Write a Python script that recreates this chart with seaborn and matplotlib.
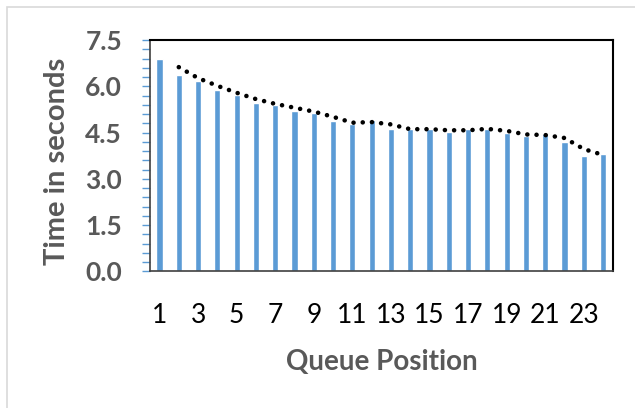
import numpy as np
import pandas as pd
import seaborn as sns
import matplotlib.pyplot as plt
from matplotlib.patches import Rectangle
from matplotlib.ticker import MultipleLocator

sns.set_theme(style="white")
plt.rcParams['font.family'] = ['Lato', 'DejaVu Sans']

positions = list(range(1, 25))
times = [6.87, 6.37, 6.16, 5.87, 5.71, 5.46, 5.40, 5.21, 5.15, 4.87, 4.77, 4.91,
         4.62, 4.60, 4.62, 4.53, 4.62, 4.62, 4.49, 4.39, 4.45, 4.20, 3.73, 3.82]
x_ticks = [1, 3, 5, 7, 9, 11, 13, 15, 17, 19, 21, 23]
y_ticks = [0.0, 1.5, 3.0, 4.5, 6.0, 7.5]

df = pd.DataFrame({"pos": positions, "time": times})
# 2-period moving average trendline
df["ma"] = df["time"].rolling(2).mean()

fig = plt.figure(figsize=(6.35, 4.08), dpi=100)
ax = fig.add_axes([0.236, 0.3346, 0.729, 0.5674])

sns.barplot(data=df, x="pos", y="time", native_scale=True, color="#5B9BD5",
            saturation=1, width=0.32, ax=ax)
sns.lineplot(data=df.dropna(), x="pos", y="ma", color="black", lw=3.3,
             linestyle=(0, (0.01, 2.0)), dash_capstyle="round", ax=ax)

ax.set_xlim(0.5, 24.5)
ax.set_ylim(0, 7.5)
ax.set_xticks(x_ticks)
ax.set_xticklabels([str(v) for v in x_ticks], fontsize=19, color="black")
ax.set_yticks(y_ticks)
ax.set_yticklabels([f"{v:.1f}" for v in y_ticks], fontsize=19,
                   fontweight="bold", color="#595959")
ax.yaxis.set_minor_locator(MultipleLocator(0.3))
ax.tick_params(axis="x", length=0, pad=23)
ax.tick_params(axis="y", which="both", direction="out", length=6,
               width=1, color="#5B9BD5", left=True, pad=14)

ax.set_xlabel("Queue Position", fontsize=20, fontweight="bold", color="#595959")
ax.set_ylabel("Time in seconds", fontsize=21, fontweight="bold", color="#595959")
ax.xaxis.set_label_coords(0.5, -0.39)
ax.xaxis.label.set_verticalalignment("center")
ax.yaxis.set_label_coords(-0.20, 0.477)
ax.yaxis.label.set_verticalalignment("center")

for side in ["top", "right"]:
    ax.spines[side].set_color("black")
    ax.spines[side].set_linewidth(1.5)
ax.spines["left"].set_color("#404040")
ax.spines["bottom"].set_color("#404040")
ax.spines["left"].set_linewidth(1.2)
ax.spines["bottom"].set_linewidth(1.2)

fig.patches.append(Rectangle((7 / 635, -0.1), 1.2, 1 - 7 / 408 + 0.1,
                             transform=fig.transFigure, fill=False,
                             edgecolor="#D9D9D9", lw=1.2))

plt.savefig("out.png", dpi=100)
